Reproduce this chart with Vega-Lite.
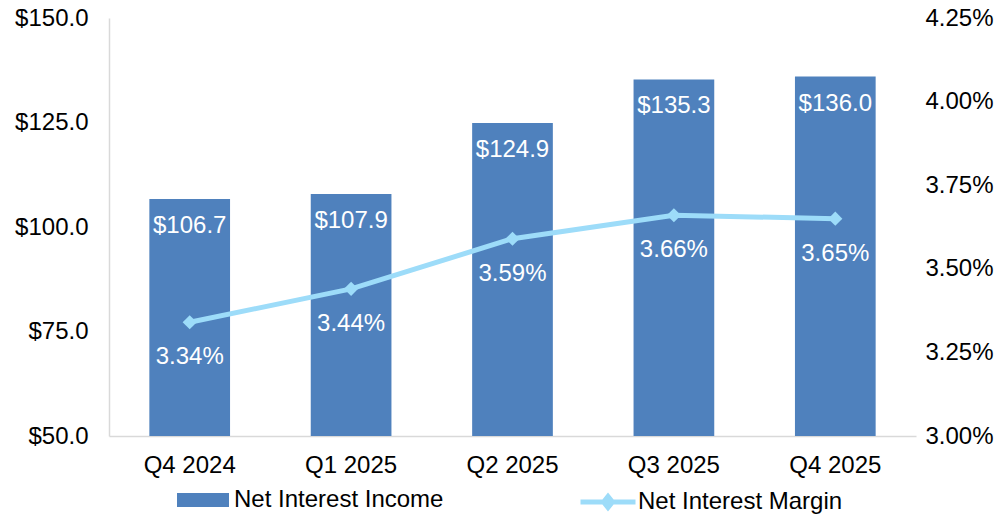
{
  "$schema": "https://vega.github.io/schema/vega-lite/v6.json",
  "width": 807,
  "height": 418,
  "autosize": {"type": "none"},
  "padding": {"left": 109, "top": 18, "right": 92, "bottom": 81},
  "background": "white",
  "config": {
    "view": {"stroke": null},
    "font": "Liberation Sans",
    "axis": {"labelFont": "Liberation Sans", "labelFontSize": 24, "labelColor": "#000000", "grid": false, "ticks": false, "title": null},
    "legend": {"labelFont": "Liberation Sans", "labelFontSize": 24, "labelColor": "#000000", "title": null, "labelLimit": 400}
  },
  "data": {
    "values": [
      {"q": "Q4 2024", "nii": 106.7, "nim": 0.0334, "s1": "Net Interest Income", "s2": "Net Interest Margin"},
      {"q": "Q1 2025", "nii": 107.9, "nim": 0.0344, "s1": "Net Interest Income", "s2": "Net Interest Margin"},
      {"q": "Q2 2025", "nii": 124.9, "nim": 0.0359, "s1": "Net Interest Income", "s2": "Net Interest Margin"},
      {"q": "Q3 2025", "nii": 135.3, "nim": 0.0366, "s1": "Net Interest Income", "s2": "Net Interest Margin"},
      {"q": "Q4 2025", "nii": 136.0, "nim": 0.0365, "s1": "Net Interest Income", "s2": "Net Interest Margin"}
    ]
  },
  "encoding": {
    "x": {
      "field": "q", "type": "nominal", "sort": null,
      "scale": {"paddingInner": 0.5, "paddingOuter": 0.25},
      "axis": {"labelAngle": 0, "labelPadding": 17, "domainColor": "#d9d9d9", "domainWidth": 1.5}
    }
  },
  "layer": [
    {
      "layer": [
        {
          "mark": {"type": "bar", "stroke": null, "clip": true},
          "encoding": {
            "y": {
              "field": "nii", "type": "quantitative",
              "scale": {"domain": [50, 150], "zero": false, "nice": false},
              "axis": {"values": [50, 75, 100, 125, 150], "labelExpr": "'$' + format(datum.value, '.1f')", "labelPadding": 21, "domainColor": "#d9d9d9", "domainWidth": 1.5}
            },
            "fill": {
              "field": "s1", "type": "nominal",
              "scale": {"range": ["#4F81BD"]},
              "legend": {
                "orient": "none", "legendX": 68, "legendY": 456,
                "symbolType": "M-1,-0.27H1V0.27H-1Z", "symbolSize": 2704,
                "symbolStrokeWidth": 0, "labelOffset": 5
              }
            }
          }
        },
        {
          "mark": {"type": "text", "color": "white", "fontSize": 24, "dy": 27, "baseline": "middle"},
          "encoding": {
            "y": {"field": "nii", "type": "quantitative"},
            "text": {"field": "nii", "type": "quantitative", "format": "$.1f"}
          }
        }
      ]
    },
    {
      "layer": [
        {
          "mark": {"type": "line", "strokeWidth": 5},
          "encoding": {
            "y": {
              "field": "nim", "type": "quantitative",
              "scale": {"domain": [0.03, 0.0425], "zero": false, "nice": false},
              "axis": {"orient": "right", "values": [0.03, 0.0325, 0.035, 0.0375, 0.04, 0.0425], "format": ".2%", "labelPadding": 9, "domain": false}
            },
            "stroke": {
              "field": "s2", "type": "nominal",
              "scale": {"range": ["#9DDCF9"]},
              "legend": {
                "orient": "none", "legendX": 469, "legendY": 454,
                "symbolType": "M-1,0H1M-0.16,0L0,-0.2L0.16,0L0,0.2Z", "symbolSize": 3025,
                "symbolStrokeWidth": 5, "symbolFillColor": "#9DDCF9", "labelOffset": 0
              }
            }
          }
        },
        {
          "mark": {"type": "point", "shape": "diamond", "filled": true, "size": 200, "opacity": 1, "color": "#9DDCF9"},
          "encoding": {
            "y": {"field": "nim", "type": "quantitative"}
          }
        },
        {
          "mark": {"type": "text", "color": "white", "fontSize": 24, "dy": 35, "baseline": "middle"},
          "encoding": {
            "y": {"field": "nim", "type": "quantitative"},
            "text": {"field": "nim", "type": "quantitative", "format": ".2%"}
          }
        }
      ]
    }
  ],
  "resolve": {"scale": {"y": "independent"}}
}
